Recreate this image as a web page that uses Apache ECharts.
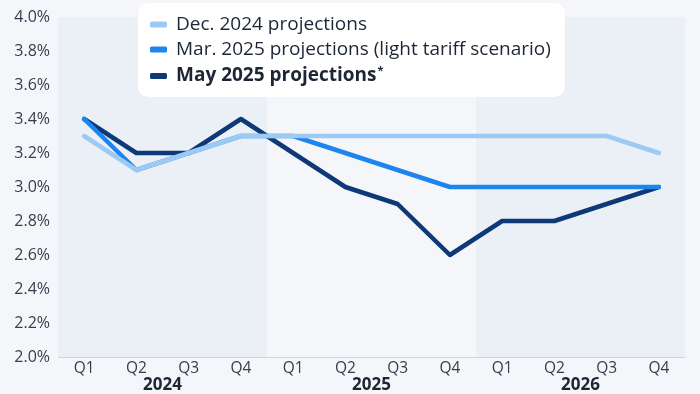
<!DOCTYPE html>
<html><head><meta charset="utf-8">
<script src="https://cdn.jsdelivr.net/npm/echarts@6/dist/echarts.min.js"></script>
<style>html,body{margin:0;padding:0;background:#f4f6fa}#c{width:700px;height:394px}</style>
</head><body><div id="c"></div>
<script>
const quarters = ['Q1','Q2','Q3','Q4','Q1','Q2','Q3','Q4','Q1','Q2','Q3','Q4'];
const years = ['2024','2025','2026'];
const decName = 'Dec. 2024 projections';
const marName = 'Mar. 2025 projections (light tariff scenario)';
const mayName = 'May 2025 projections';
const dec2024 = [3.3, 3.1, 3.2, 3.3, 3.3, 3.3, 3.3, 3.3, 3.3, 3.3, 3.3, 3.2];
const mar2025 = [3.4, 3.1, 3.2, 3.3, 3.3, 3.2, 3.1, 3.0, 3.0, 3.0, 3.0, 3.0];
const may2025 = [3.4, 3.2, 3.2, 3.4, 3.2, 3.0, 2.9, 2.6, 2.8, 2.8, 2.9, 3.0];
const yTicks = [2.0, 2.2, 2.4, 2.6, 2.8, 3.0, 3.2, 3.4, 3.6, 3.8, 4.0];

const chart = echarts.init(document.getElementById('c'));
const font = '"Open Sans", sans-serif';
const lineSeries = (name, data, color) => ({
  name, type: 'line', data, symbol: 'none',
  lineStyle: { width: 4.5, color, cap: 'round', join: 'round' },
  itemStyle: { color }
});
chart.setOption({
  backgroundColor: '#f4f6fa',
  textStyle: { fontFamily: font },
  grid: { left: 58, right: 15, top: 17, bottom: 36 },
  legend: {
    orient: 'vertical', left: 138, top: 3,
    backgroundColor: '#ffffff', borderRadius: 10,
    padding: [12, 14, 11, 12], itemGap: 6,
    icon: 'roundRect', itemWidth: 17, itemHeight: 6,
    data: [decName, marName, mayName],
    formatter: n => n === mayName ? '{b|' + n + '}{s|*}' : '{n|' + n + '}',
    textStyle: {
      padding: [0, 0, 0, 4],
      rich: {
        n: { fontSize: 19, color: '#1d2635', fontFamily: font, lineHeight: 22 },
        b: { fontSize: 19, color: '#1d2635', fontFamily: font, fontWeight: 'bold', lineHeight: 22 },
        s: { fontSize: 11, color: '#1d2635', fontFamily: font, fontWeight: 'bold', verticalAlign: 'top', lineHeight: 22, padding: [0, 0, 10, 1] }
      }
    }
  },
  xAxis: [
    {
      type: 'category', data: quarters, boundaryGap: true,
      axisLine: { show: false }, axisTick: { show: false },
      axisLabel: { color: '#363e4b', fontSize: 15.5, margin: 4, fontFamily: font }
    },
    {
      type: 'category', data: years, boundaryGap: true, position: 'bottom',
      axisLine: { show: false }, axisTick: { show: false },
      axisLabel: { color: '#1d2635', fontSize: 17, fontWeight: 'bold', margin: 20, fontFamily: font },
      splitArea: { show: true, areaStyle: { color: ['#ebeff6', '#f4f6fa'] } }
    }
  ],
  yAxis: {
    type: 'value', min: yTicks[0], max: yTicks[yTicks.length - 1], interval: 0.2,
    axisLine: { show: false }, axisTick: { show: false },
    axisLabel: { color: '#363e4b', fontSize: 16, margin: 8, fontFamily: font,
      formatter: v => v.toFixed(1) + '%' },
    splitLine: { lineStyle: { color: '#cfd4dc', width: 1 } }
  },
  series: [
    lineSeries(mayName, may2025, '#0e3878'),
    lineSeries(marName, mar2025, '#1d86ee'),
    lineSeries(decName, dec2024, '#9dcaf4')
  ]
});
</script></body></html>
